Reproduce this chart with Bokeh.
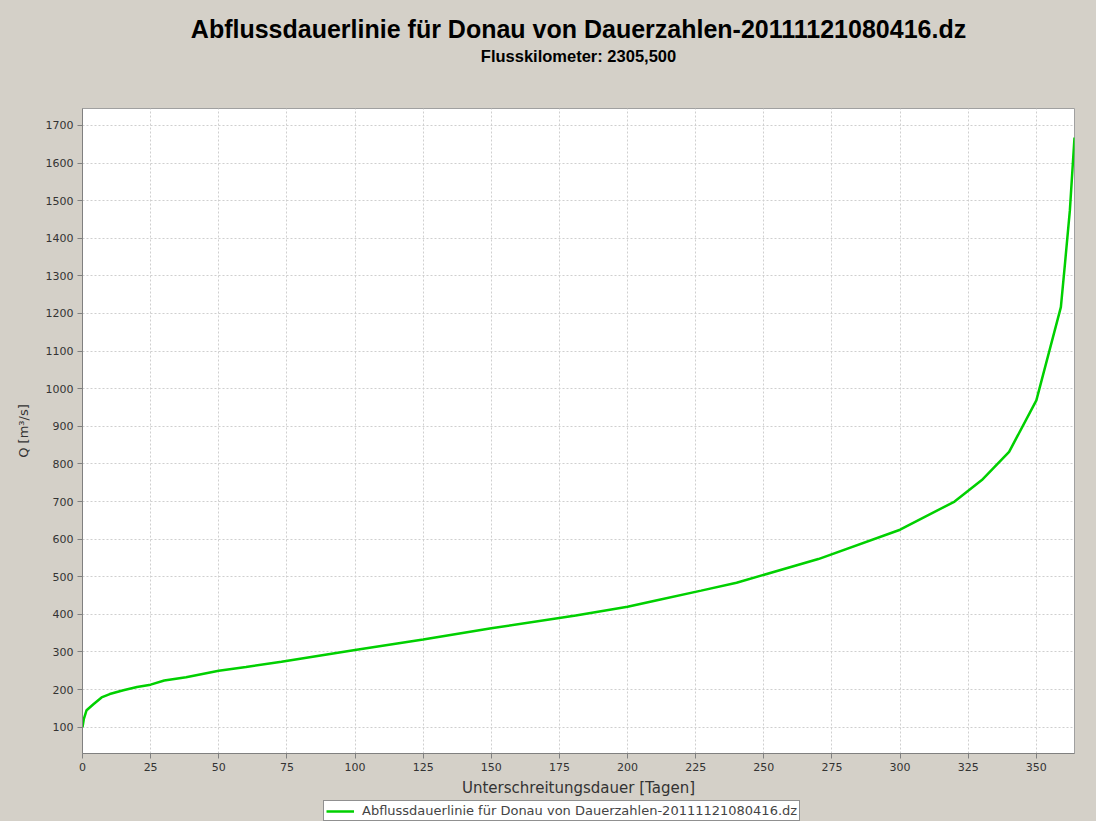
from bokeh.plotting import figure
from bokeh.layouts import column
from bokeh.models import (Title, Legend, LegendItem, FixedTicker, Range1d)
from bokeh.embed import file_html
from bokeh.resources import INLINE

# ---- data ----
days = [0, 0.5, 1.5, 4, 7, 10, 15, 20, 25, 30, 38, 50, 60, 73, 100, 125, 150,
        181, 200, 210, 227, 240, 270, 300, 320, 330, 340, 350, 359, 360.5,
        362.3, 364]
q = [100, 122, 145, 161, 179, 188, 198, 207, 213, 224, 233, 250, 260, 274,
     305, 333, 363, 397, 420, 436, 463, 484, 547, 625, 700, 757, 832, 969,
     1217, 1332, 1474, 1668]
x_ticks = list(range(0, 351, 25))
y_ticks = list(range(100, 1701, 100))

title_text = "Abflussdauerlinie für Donau von Dauerzahlen-20111121080416.dz"
subtitle_text = "Flusskilometer: 2305,500"
series_label = "Abflussdauerlinie für Donau von Dauerzahlen-20111121080416.dz"
x_label = "Unterschreitungsdauer [Tagen]"
y_label = "Q [m³/s]"

BG = "#D4D0C8"
GREEN = "#00D000"

p = figure(width=1096, height=800, output_backend="svg", toolbar_location=None,
           title=None,
           x_range=Range1d(0, 364), y_range=Range1d(30, 1745),
           min_border_left=82, min_border_right=22, min_border_top=108,
           min_border_bottom=47)
p.border_fill_color = BG
p.background_fill_color = "white"
p.outline_line_color = "#A0A0A0"
p.outline_line_width = 1

p.line(days, q, line_color=GREEN, line_width=2.5)

# titles: background-coloured spacer nearest the frame, then subtitle, then title
spacer = Title(text=".", align="center", text_font="Liberation Sans",
               text_font_size="8px", text_color=BG, standoff=37)
p.add_layout(spacer, "above")
sub = Title(text=subtitle_text, align="center", text_font="Liberation Sans",
            text_font_size="16.5px", text_font_style="bold", text_color="black",
            standoff=0)
p.add_layout(sub, "above")
main = Title(text=title_text, align="center", text_font="Liberation Sans",
             text_font_size="25px", text_font_style="bold", text_color="black",
             standoff=4)
p.add_layout(main, "above")

# axes
for ax in (p.xaxis[0], p.yaxis[0]):
    ax.axis_line_color = "#808080"
    ax.major_tick_line_color = "#808080"
    ax.minor_tick_line_color = None
    ax.major_tick_in = 0
    ax.major_tick_out = 5
    ax.major_label_text_font = "DejaVu Sans"
    ax.major_label_text_font_size = "11px"
    ax.major_label_text_color = "#333333"
    ax.axis_label_text_font = "DejaVu Sans"
    ax.axis_label_text_font_style = "normal"
    ax.axis_label_text_color = "#333333"
    ax.major_label_standoff = 4

p.xaxis.ticker = FixedTicker(ticks=x_ticks)
p.yaxis.ticker = FixedTicker(ticks=y_ticks)
p.xaxis.axis_label = x_label
p.xaxis.axis_label_text_font_size = "15px"
p.xaxis.axis_label_standoff = 5
p.yaxis.axis_label = y_label
p.yaxis.axis_label_text_font_size = "13px"
p.yaxis.axis_label_standoff = 12

# grid
for g in (p.xgrid[0], p.ygrid[0]):
    g.grid_line_color = "#CFCFCF"
    g.grid_line_dash = "2 2"
    g.grid_line_width = 1

# legend strip below the chart; its frame is aligned with the main frame
lg = figure(width=1096, height=21, output_backend="svg", toolbar_location=None,
            title=None,
            x_range=Range1d(0, 1), y_range=Range1d(0, 1),
            x_axis_type=None, y_axis_type=None, min_border=0)
lg.border_fill_color = BG
lg.background_fill_color = BG
lg.outline_line_color = None
lg.xgrid.visible = False
lg.ygrid.visible = False
key = lg.line(days[:1], q[:1], line_color=GREEN, line_width=2.5)
legend = Legend(items=[LegendItem(label=series_label, renderers=[key])],
                location=(241, 0), orientation="horizontal",
                border_line_color="#222222", border_line_width=1,
                background_fill_color="white", background_fill_alpha=1,
                label_text_font="DejaVu Sans", label_text_font_size="13px",
                glyph_width=28, glyph_height=14, label_height=14,
                padding=2, margin=0, label_standoff=8, spacing=0)
lg.add_layout(legend)

layout = column(p, lg, spacing=0, styles={"background-color": BG})
open("out.html", "w").write(file_html(layout, INLINE))
